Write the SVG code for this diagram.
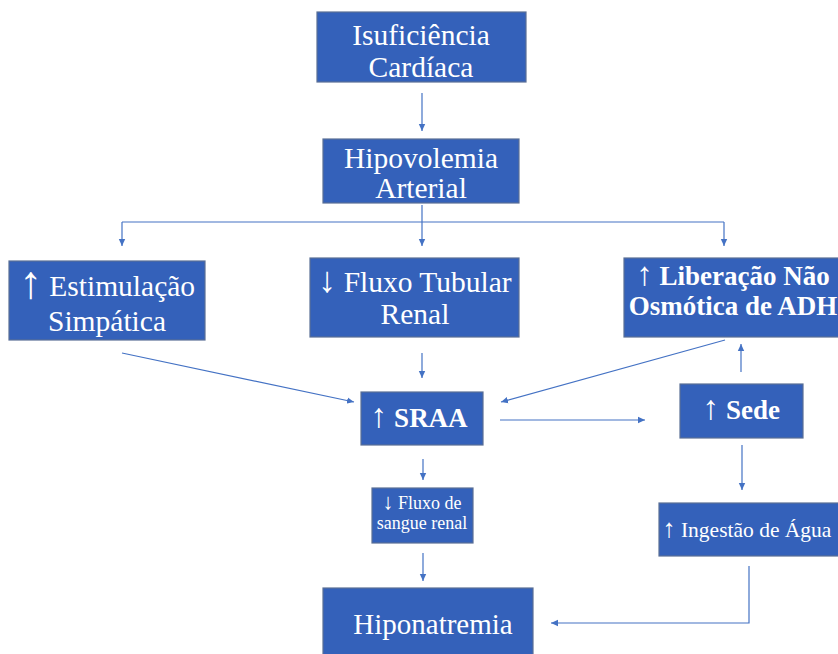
<svg xmlns="http://www.w3.org/2000/svg" width="838" height="654" viewBox="0 0 838 654">
<defs>
<marker id="ah" markerWidth="8" markerHeight="8" refX="7" refY="4" orient="auto" markerUnits="userSpaceOnUse">
<path d="M0,0.8 L7,4 L0,7.2 Z" fill="#4472C4"/>
</marker>
<style>
.box{fill:#3461BA;stroke:#5A6F96;stroke-width:1.2}
.t{font-family:"Liberation Serif","Times New Roman",serif;fill:#fff;text-anchor:middle}
.b{font-weight:bold}
.ar{font-weight:normal}
.c{fill:none;stroke:#4472C4;stroke-width:1.2}
.ca{fill:none;stroke:#4472C4;stroke-width:1.2;marker-end:url(#ah)}
</style>
</defs>
<rect width="838" height="654" fill="#fff"/>
<g id="connectors">
<line class="ca" x1="422" y1="93" x2="422" y2="131"/>
<line class="c" x1="422" y1="205" x2="422" y2="222"/>
<line class="c" x1="122" y1="222" x2="724" y2="222"/>
<line class="ca" x1="122" y1="222" x2="122" y2="246"/>
<line class="ca" x1="422" y1="222" x2="422" y2="246"/>
<line class="ca" x1="724" y1="222" x2="724" y2="246"/>
<line class="ca" x1="422" y1="353" x2="422" y2="378"/>
<line class="ca" x1="122" y1="353" x2="354" y2="402"/>
<line class="ca" x1="725" y1="340" x2="501" y2="402"/>
<line class="ca" x1="500" y1="420" x2="645" y2="420"/>
<line class="ca" x1="741" y1="372" x2="741" y2="344"/>
<line class="ca" x1="423" y1="459" x2="423" y2="480"/>
<line class="ca" x1="742" y1="445" x2="742" y2="490"/>
<line class="ca" x1="423" y1="553" x2="423" y2="581"/>
<polyline class="ca" points="749,566 749,623 551,623"/>
</g>
<g id="n1"><rect class="box" x="317" y="12" width="209" height="70"/>
<text class="t" x="421" y="45" font-size="29.5">Isuficiência</text>
<text class="t" x="421" y="77" font-size="29.5">Cardíaca</text></g>
<g id="n2"><rect class="box" x="323" y="139" width="196" height="64"/>
<text class="t" x="421" y="168" font-size="29.5">Hipovolemia</text>
<text class="t" x="421" y="198" font-size="29.5">Arterial</text></g>
<g id="n3"><rect class="box" x="9" y="261" width="196" height="79"/>
<text class="t" x="107" y="296" font-size="29.5"><tspan font-size="46" dy="2">↑</tspan><tspan dy="-2"> Estimulação</tspan></text>
<text class="t" x="107" y="331" font-size="29.5">Simpática</text></g>
<g id="n4"><rect class="box" x="310" y="258" width="209" height="79"/>
<text class="t" x="415" y="292" font-size="29.5"><tspan font-size="36">↓</tspan> Fluxo Tubular</text>
<text class="t" x="415" y="324" font-size="29.5">Renal</text></g>
<g id="n5"><rect class="box" x="624" y="258" width="216" height="79"/>
<text class="t b" x="733" y="285" font-size="27"><tspan class="ar" font-size="33">↑</tspan> Liberação Não</text>
<text class="t b" x="733" y="315" font-size="27">Osmótica de ADH</text></g>
<g id="n6"><rect class="box" x="361" y="392" width="122" height="53"/>
<text class="t b" x="419" y="427" font-size="27"><tspan class="ar" font-size="34">↑</tspan> SRAA</text></g>
<g id="n7"><rect class="box" x="680" y="384" width="123" height="54"/>
<text class="t b" x="741" y="419" font-size="27"><tspan class="ar" font-size="34">↑</tspan> Sede</text></g>
<g id="n8"><rect class="box" x="372" y="488" width="101" height="55"/>
<text class="t" x="422" y="509" font-size="18"><tspan font-size="22">↓</tspan> Fluxo de</text>
<text class="t" x="422" y="529" font-size="18">sangue renal</text></g>
<g id="n9"><rect class="box" x="659" y="503" width="181" height="53"/>
<text class="t" x="747" y="537" font-size="21.5"><tspan font-size="26">↑</tspan> Ingestão de Água</text></g>
<g id="n10"><rect class="box" x="323" y="588" width="210" height="70"/>
<text class="t" x="433" y="634" font-size="29">Hiponatremia</text></g>
</svg>
